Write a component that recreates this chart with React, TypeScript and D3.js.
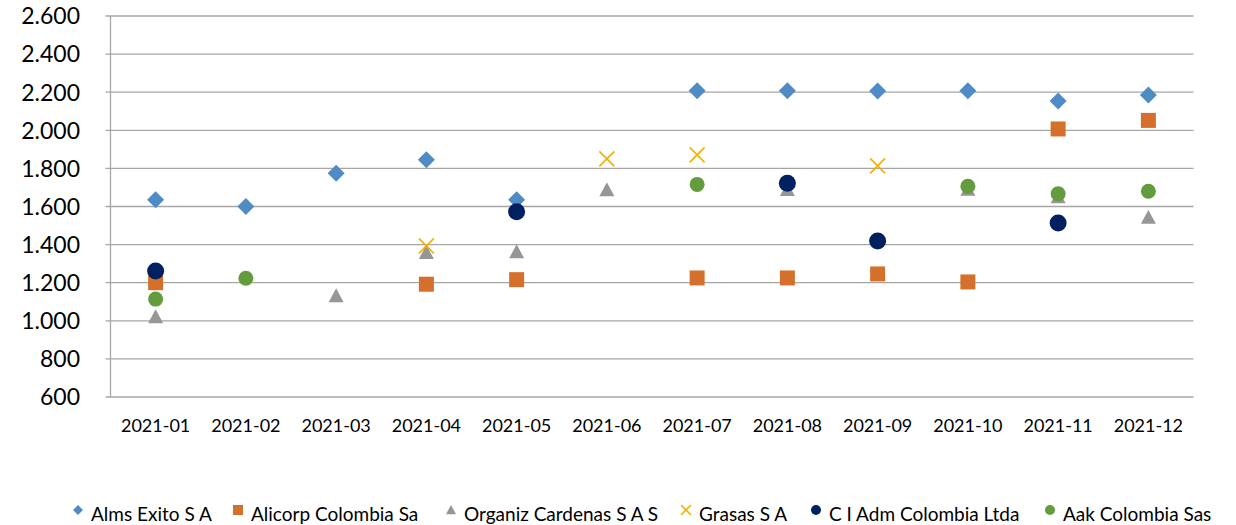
import React from "react";
import * as d3 from "d3";

const categories = ["2021-01","2021-02","2021-03","2021-04","2021-05","2021-06","2021-07","2021-08","2021-09","2021-10","2021-11","2021-12"];
const yTicks = [600, 800, 1000, 1200, 1400, 1600, 1800, 2000, 2200, 2400, 2600];

const almsExito: (number | null)[] = [1635, 1600, 1775, 1845, 1635, null, 2208, 2208, 2206, 2208, 2154, 2185];
const alicorp: (number | null)[] = [1200, null, null, 1192, 1216, null, 1225, 1225, 1246, 1204, 2007, 2052];
const organizCardenas: (number | null)[] = [1020, null, 1130, 1358, 1361, 1687, null, 1688, null, 1690, 1650, 1542];
const grasas: (number | null)[] = [null, null, null, 1393, null, 1850, 1871, null, 1813, null, null, null];
const ciAdm: (number | null)[] = [1262, null, null, null, 1573, null, null, 1722, 1419, null, 1513, null];
const aak: (number | null)[] = [1114, 1223, null, null, null, null, 1716, null, null, 1706, 1667, 1680];

type Shape = "diamond" | "square" | "triangle" | "x" | "circle";
const series = [
  { name: "Alms Exito S A", values: almsExito, shape: "diamond" as Shape, color: "#4F8BC4", size: 17 },
  { name: "Alicorp Colombia Sa", values: alicorp, shape: "square" as Shape, color: "#D4702B", size: 15 },
  { name: "Organiz Cardenas S A S", values: organizCardenas, shape: "triangle" as Shape, color: "#969696", size: 15 },
  { name: "Grasas S A", values: grasas, shape: "x" as Shape, color: "#F0B000", size: 15 },
  { name: "C I Adm Colombia Ltda", values: ciAdm, shape: "circle" as Shape, color: "#002060", size: 17 },
  { name: "Aak Colombia Sas", values: aak, shape: "circle" as Shape, color: "#629C3C", size: 15 },
];

function markerPath(shape: Shape, s: number): string {
  const h = s / 2;
  const p = d3.path();
  if (shape === "diamond") {
    p.moveTo(0, -h); p.lineTo(h, 0); p.lineTo(0, h); p.lineTo(-h, 0); p.closePath();
  } else if (shape === "square") {
    p.rect(-h, -h, s, s);
  } else if (shape === "triangle") {
    const th = s * 0.93;
    p.moveTo(0, -th * 0.55); p.lineTo(h, th * 0.45); p.lineTo(-h, th * 0.45); p.closePath();
  } else if (shape === "x") {
    p.moveTo(-h, -h); p.lineTo(h, h); p.moveTo(h, -h); p.lineTo(-h, h);
  } else {
    p.arc(0, 0, h, 0, Math.PI * 2);
  }
  return p.toString();
}

function Marker({ shape, size, color, x, y }: { shape: Shape; size: number; color: string; x: number; y: number }) {
  const d = markerPath(shape, size);
  if (shape === "x") {
    return <path d={d} transform={`translate(${x},${y})`} fill="none" stroke={color} strokeWidth={1.6} />;
  }
  return <path d={d} transform={`translate(${x},${y})`} fill={color} />;
}

const legendMarkerX = [78, 238, 451, 686, 816, 1050];

export default function App() {
  const width = 1236, height = 525;
  const left = 110.5, right = 1193.5, top = 16, bottom = 397;
  const x = d3.scaleBand<string>().domain(categories).range([left, right]);
  const y = d3.scaleLinear().domain([600, 2600]).range([bottom, top]);
  const font = "Lato, 'Open Sans', sans-serif";

  return (
    <div style={{ position: "absolute", left: 0, top: 0 }}>
      <svg width={width} height={height} style={{ display: "block", background: "#fff" }}>
        {yTicks.map((t) => (
          <g key={t}>
            <line x1={left - 5} x2={right} y1={y(t)} y2={y(t)} stroke="#A6A6A6" strokeWidth={1.3} />
            <text x={80} y={y(t) + 8.3} textAnchor="end" fontFamily={font} fontSize={23} fill="#000">
              {d3.format(",")(t).replace(",", ".")}
            </text>
          </g>
        ))}
        <line x1={left} x2={left} y1={top} y2={bottom} stroke="#A6A6A6" strokeWidth={1.3} />
        {categories.map((c) => (
          <text key={c} x={(x(c) as number) + x.bandwidth() / 2} y={431.5} textAnchor="middle" fontFamily={font} fontSize={18} fill="#000">
            {c}
          </text>
        ))}
        {series.map((s) => (
          <g key={s.name}>
            {s.values.map((v, i) =>
              v == null ? null : (
                <Marker key={i} shape={s.shape} size={s.size} color={s.color}
                  x={(x(categories[i]) as number) + x.bandwidth() / 2} y={y(v)} />
              )
            )}
          </g>
        ))}
        {series.map((s, i) => (
          <g key={"lg" + s.name}>
            <Marker shape={s.shape} size={10} color={s.color} x={legendMarkerX[i]} y={510} />
            <text x={legendMarkerX[i] + 13} y={521} fontFamily={font} fontSize={19} fill="#000">{s.name}</text>
          </g>
        ))}
      </svg>
    </div>
  );
}
